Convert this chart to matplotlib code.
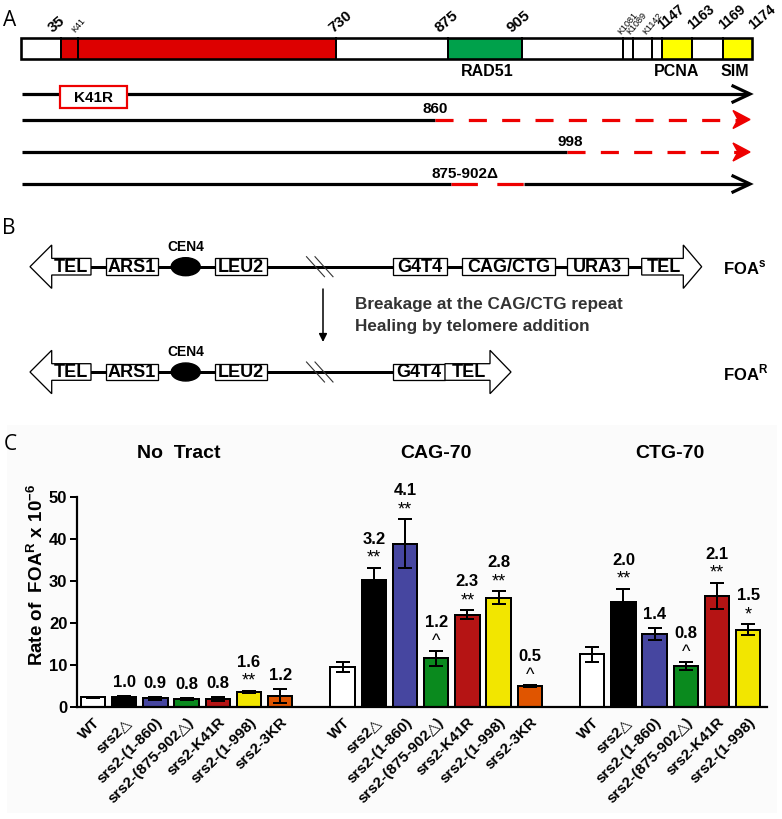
import numpy as np
import matplotlib
matplotlib.use("Agg")
import matplotlib.pyplot as plt
from matplotlib.patches import Rectangle, Polygon, Ellipse

plt.rcParams['font.family'] = ['Liberation Sans', 'DejaVu Sans']
plt.rcParams['mathtext.fontset'] = 'custom'
plt.rcParams['mathtext.rm'] = 'Liberation Sans'
plt.rcParams['mathtext.bf'] = 'Liberation Sans:bold'
plt.rcParams['lines.scale_dashes'] = False

# ---------------- data (panel C) ----------------
group_names = ["No  Tract", "CAG-70", "CTG-70"]
strains_no_tract = ["WT", "srs2△", "srs2-(1-860)", "srs2-(875-902△)", "srs2-K41R", "srs2-(1-998)", "srs2-3KR"]
strains_cag = ["WT", "srs2△", "srs2-(1-860)", "srs2-(875-902△)", "srs2-K41R", "srs2-(1-998)", "srs2-3KR"]
strains_ctg = ["WT", "srs2△", "srs2-(1-860)", "srs2-(875-902△)", "srs2-K41R", "srs2-(1-998)"]

no_tract_vals = [2.2, 2.3, 2.0, 1.8, 1.8, 3.5, 2.6]
no_tract_err = [0.2, 0.3, 0.3, 0.3, 0.4, 0.3, 1.6]
cag_vals = [9.5, 30.1, 38.9, 11.6, 21.9, 26.0, 4.9]
cag_err = [1.2, 3.0, 5.8, 1.8, 1.1, 1.5, 0.3]
ctg_vals = [12.5, 24.9, 17.3, 9.7, 26.4, 18.3]
ctg_err = [1.8, 3.2, 1.5, 0.9, 3.2, 1.3]

no_tract_fold = ["", "1.0", "0.9", "0.8", "0.8", "1.6", "1.2"]
no_tract_sig = ["", "", "", "", "", "**", ""]
cag_fold = ["", "3.2", "4.1", "1.2", "2.3", "2.8", "0.5"]
cag_sig = ["", "**", "**", "^", "**", "**", "^"]
ctg_fold = ["", "2.0", "1.4", "0.8", "2.1", "1.5"]
ctg_sig = ["", "**", "", "^", "**", "*"]

strain_colors = ["white", "black", "#4646a0", "#0a8a1e", "#b51414", "#f2e600", "#e05500"]

y_ticks = [0, 10, 20, 30, 40, 50]
y_label = r"Rate of  FOA$^{\mathbf{R}}$ x 10$^{\mathbf{-6}}$"

# ---------------- panel A / B schematic labels ----------------
domain_labels = ["35", "730", "875", "905", "1147", "1163", "1169", "1174"]
lysine_labels = ["K41", "K1081", "K1089", "K1142"]
motif_labels = ["RAD51", "PCNA", "SIM"]
trunc_labels = ["860", "998", "875-902Δ"]
chrom_top = ["TEL", "ARS1", "LEU2", "G4T4", "CAG/CTG", "URA3", "TEL"]
chrom_bottom = ["TEL", "ARS1", "LEU2", "G4T4", "TEL"]

W, H = 782, 819
fig = plt.figure(figsize=(W / 100, H / 100), dpi=100)
ax0 = fig.add_axes([0, 0, 1, 1], zorder=0)
ax0.set_xlim(0, W)
ax0.set_ylim(H, 0)
ax0.axis('off')

PX = 0.72  # points per pixel

# panel C background
ax0.add_patch(Rectangle((7, 425), 770, 388, facecolor='#fbfbfb', edgecolor='none', zorder=0))

# panel letters
for letter, (lx, ly) in zip("ABC", [(10, 20), (9, 229), (10, 445)]):
    ax0.text(lx, ly, letter, fontsize=15, family=['Open Sans', 'DejaVu Sans'], ha='center', va='center')

# ---------------- Panel A ----------------
bx0, bx1, by0, by1 = 21, 752, 38, 59
ax0.add_patch(Rectangle((bx0, by0), bx1 - bx0, by1 - by0, facecolor='white', edgecolor='none', zorder=1))
fills = [(61, 336, '#dd0000'), (448, 522, '#00a14b'), (662, 692, '#ffff00'), (723, 752, '#ffff00')]
for x0, x1, c in fills:
    ax0.add_patch(Rectangle((x0, by0), x1 - x0, by1 - by0, facecolor=c, edgecolor='none', zorder=1))
for xv in [61, 78, 336, 448, 522, 623, 633, 652, 662, 692, 723]:
    ax0.plot([xv, xv], [by0, by1], color='black', lw=2 * PX, zorder=2)
ax0.add_patch(Rectangle((bx0, by0), bx1 - bx0, by1 - by0, facecolor='none', edgecolor='black', lw=2.6 * PX, zorder=3))

for txt, (tx, ty) in zip(domain_labels, [(53, 33), (333, 33), (439, 33), (511, 33), (662, 30), (692, 30), (723, 30), (753, 30)]):
    fs = 11 if len(txt) < 4 else 10
    ax0.text(tx, ty, txt, fontsize=fs, fontweight='bold', rotation=40, ha='left', va='baseline', rotation_mode='anchor')
for txt, (tx, ty) in zip(lysine_labels, [(75, 33), (621, 35), (630, 35), (646, 35)]):
    ax0.text(tx, ty, txt, fontsize=6.5, rotation=50, ha='left', va='baseline', rotation_mode='anchor')
for txt, tx in zip(motif_labels, [487, 677, 735]):
    ax0.text(tx, 72, txt, fontsize=11.5, fontweight='bold', ha='center', va='center')

LW_A = 3.2 * PX
red = '#ee0000'


def black_head(y):
    ax0.plot([733, 750, 733], [y - 8, y, y + 8], color='black', lw=LW_A, solid_joinstyle='miter', zorder=4)


def red_head(y):
    ax0.add_patch(Polygon([(750, y), (733, y - 9), (738, y), (733, y + 9)], closed=True,
                          facecolor=red, edgecolor=red, lw=1, zorder=4))


dash = (0, (13, 11))
# line 1
y1 = 94
ax0.plot([22, 748], [y1, y1], color='black', lw=LW_A, solid_capstyle='butt', zorder=3)
black_head(y1)
ax0.add_patch(Rectangle((60, 86), 67, 22, facecolor='white', edgecolor=red, lw=2.2 * PX, zorder=5))
ax0.text(93.5, 97.5, "K41R", fontsize=11, fontweight='bold', ha='center', va='center', zorder=6)
# line 2
y2 = 119.5
ax0.plot([22, 435], [y2, y2], color='black', lw=LW_A, solid_capstyle='butt', zorder=3)
ax0.plot([435, 738], [y2, y2], color=red, lw=LW_A, linestyle=dash, dash_capstyle='butt', zorder=3)
red_head(y2)
ax0.text(435, 113, trunc_labels[0], fontsize=11, fontweight='bold', ha='center', va='baseline')
# line 3
y3 = 152
ax0.plot([22, 567], [y3, y3], color='black', lw=LW_A, solid_capstyle='butt', zorder=3)
ax0.plot([567, 738], [y3, y3], color=red, lw=LW_A, linestyle=dash, dash_capstyle='butt', zorder=3)
red_head(y3)
ax0.text(570, 146, trunc_labels[1], fontsize=11, fontweight='bold', ha='center', va='baseline')
# line 4
y4 = 184
ax0.plot([22, 451], [y4, y4], color='black', lw=LW_A, solid_capstyle='butt', zorder=3)
ax0.plot([451, 524], [y4, y4], color=red, lw=LW_A, linestyle=(0, (19, 14)), dash_capstyle='butt', zorder=3)
ax0.plot([524, 748], [y4, y4], color='black', lw=LW_A, solid_capstyle='butt', zorder=3)
black_head(y4)
ax0.text(465, 178, trunc_labels[2], fontsize=11, fontweight='bold', ha='center', va='baseline')

# ---------------- Panel B ----------------
LW_B = 3 * PX


def chrom(yc, boxes, right_arrow, line_end, label):
    hh = 8.3
    ax0.plot([91, line_end], [yc, yc], color='black', lw=LW_B, zorder=2)
    # left TEL arrow
    ax0.add_patch(Polygon([(30, yc), (51.7, yc - 21.7), (51.7, yc - hh), (91, yc - hh), (91, yc + hh),
                           (51.7, yc + hh), (51.7, yc + 21.7)], closed=True, facecolor='white',
                          edgecolor='black', lw=1.3 * PX, zorder=3))
    ax0.text(71, yc + 0.5, "TEL", fontsize=13, fontweight='bold', ha='center', va='center', zorder=4)
    for name, x0, x1 in boxes:
        ax0.add_patch(Rectangle((x0, yc - hh), x1 - x0, 2 * hh, facecolor='white', edgecolor='black',
                                lw=1.3 * PX, zorder=3))
        ax0.text((x0 + x1) / 2, yc + 0.5, name, fontsize=13, fontweight='bold', ha='center', va='center', zorder=4)
    # centromere
    ax0.add_patch(Ellipse((185.7, yc), 29, 18, facecolor='black', edgecolor='black', zorder=3))
    ax0.text(185.5, yc - 20, "CEN4", fontsize=10, fontweight='bold', ha='center', va='center')
    # break marks
    for dx in (0, 8.5):
        ax0.plot([306.5 + dx, 324.5 + dx], [yc - 10, yc + 10], color='#333333', lw=0.8, zorder=3)
    # right TEL arrow
    b0, b1, tip = right_arrow
    ax0.add_patch(Polygon([(b0, yc - hh), (b1, yc - hh), (b1, yc - 21.7), (tip, yc), (b1, yc + 21.7),
                           (b1, yc + hh), (b0, yc + hh)], closed=True, facecolor='white',
                          edgecolor='black', lw=1.3 * PX, zorder=3))
    ax0.text((b0 + b1) / 2 + 1, yc + 0.5, "TEL", fontsize=13, fontweight='bold', ha='center', va='center', zorder=4)
    ax0.text(723, yc + 1, label, fontsize=12, fontweight='bold', ha='left', va='center')


yt = 266.7
chrom(yt, [(chrom_top[1], 106, 158), (chrom_top[2], 215, 267), (chrom_top[3], 393, 447),
           (chrom_top[4], 461.7, 555), (chrom_top[5], 566.7, 628.3)],
      (641.7, 683.3, 701.7), 641.7, r"FOA$^{\mathbf{s}}$")
yb = 372
chrom(yb, [(chrom_bottom[1], 106, 158), (chrom_bottom[2], 215, 267), (chrom_bottom[3], 393, 445)],
      (445, 490, 511), 393, r"FOA$^{\mathbf{R}}$")

ax0.annotate("", xy=(323, 342), xytext=(323, 289),
             arrowprops=dict(arrowstyle='-|>', color='black', lw=1.1, mutation_scale=12, shrinkA=0, shrinkB=0))
ax0.text(355, 305, "Breakage at the CAG/CTG repeat", fontsize=12.3, fontweight='bold', color='#333333',
         ha='left', va='center')
ax0.text(355, 327, "Healing by telomere addition", fontsize=12.3, fontweight='bold', color='#333333',
         ha='left', va='center')

# ---------------- Panel C ----------------
zero_px, fifty_px = 706.7, 497.0
x_left_px, x_right_px = 77, 767
ax = fig.add_axes([x_left_px / W, (H - zero_px) / H, (x_right_px - x_left_px) / W, (zero_px - fifty_px) / H], zorder=2)
ax.patch.set_alpha(0)

groups = [
    (strains_no_tract, no_tract_vals, no_tract_err, no_tract_fold, no_tract_sig),
    (strains_cag, cag_vals, cag_err, cag_fold, cag_sig),
    (strains_ctg, ctg_vals, ctg_err, ctg_fold, ctg_sig),
]
all_pos, all_labels = [], []
start = 0
for gi, (strains, vals, errs, folds, sigs) in enumerate(groups):
    pos = np.arange(len(strains)) + start
    cols = strain_colors[:len(strains)]
    ax.bar(pos, vals, width=0.78, color=cols, edgecolor='black', linewidth=2 * PX, zorder=2)
    ax.errorbar(pos, vals, yerr=errs, fmt='none', ecolor='black', elinewidth=2 * PX, capsize=4.7,
                capthick=2 * PX, zorder=3)
    for p, v, e, f, s in zip(pos, vals, errs, folds, sigs):
        top = v + e
        if s:
            ax.annotate(s, xy=(p, top), xytext=(0, 1), textcoords='offset pixels', ha='center', va='bottom',
                        fontsize=13, annotation_clip=False)
            ax.annotate(f, xy=(p, top), xytext=(0, 21), textcoords='offset pixels', ha='center', va='bottom',
                        fontsize=12, fontweight='bold', annotation_clip=False)
        elif f:
            ax.annotate(f, xy=(p, top), xytext=(0, 6), textcoords='offset pixels', ha='center', va='bottom',
                        fontsize=12, fontweight='bold', annotation_clip=False)
    ax.text(pos.mean() - (0.25 if gi == 0 else 0), (zero_px - 453) / ((zero_px - fifty_px) / 50), group_names[gi],
            fontsize=14, fontweight='bold', ha='center', va='center', clip_on=False)
    all_pos.extend(pos)
    all_labels.extend(strains)
    start = pos[-1] + 2

ax.set_xlim(-0.51, 21.6)
ax.set_ylim(0, 50)
ax.set_yticks(y_ticks)
ax.set_yticklabels([str(t) for t in y_ticks], fontsize=12, fontweight='bold')
ax.set_xticks(all_pos)
ax.set_xticklabels(all_labels, rotation=45, ha='right', va='top', rotation_mode='anchor', fontsize=11,
                   fontweight='bold')
ax.tick_params(axis='x', length=0, pad=6)
ax.tick_params(axis='y', length=5, width=2 * PX, pad=2)
for sp in ['top', 'right']:
    ax.spines[sp].set_visible(False)
for sp in ['left', 'bottom']:
    ax.spines[sp].set_linewidth(2.2 * PX)

ax0.text(37, 575, y_label, fontsize=13.5, fontweight='bold', rotation=90, ha='center', va='center')

fig.savefig("out.png", dpi=100)
